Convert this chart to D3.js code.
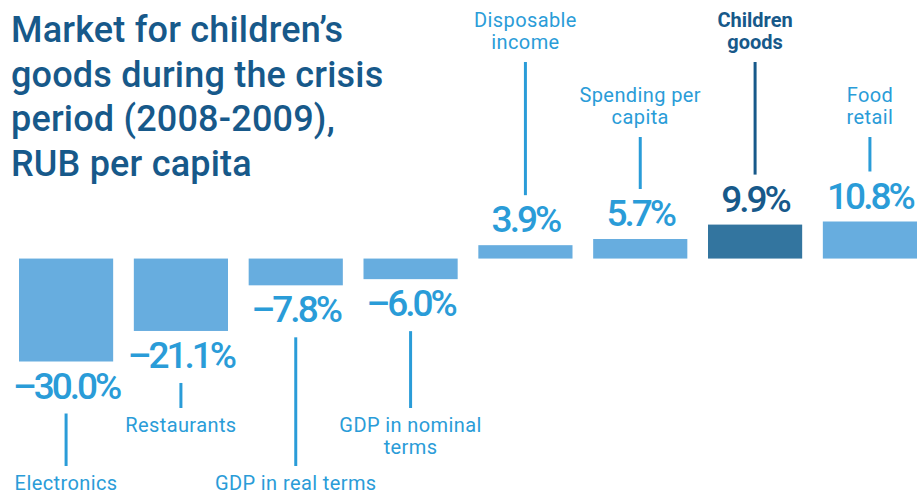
<!DOCTYPE html>
<html>
<head>
<meta charset="utf-8">
<script src="https://cdn.jsdelivr.net/npm/d3@7"></script>
<style>
  html, body { margin: 0; padding: 0; background: #fff; }
  svg { display: block; font-family: Roboto, "Open Sans", sans-serif; }
</style>
</head>
<body>
<svg id="chart" width="923" height="494"></svg>
<script>
// Change in market size, % (2008-2009)
const categories = [
  "Electronics", "Restaurants", "GDP in real terms", "GDP in nominal terms",
  "Disposable income", "Spending per capita", "Children goods", "Food retail"
];
const values = [-30.0, -21.1, -7.8, -6.0, 3.9, 5.7, 9.9, 10.8];
const valueLabels = ["\u201330.0%", "\u201321.1%", "\u20137.8%", "\u20136.0%", "3.9%", "5.7%", "9.9%", "10.8%"];
const labelLines = [
  ["Electronics"], ["Restaurants"], ["GDP in real terms"], ["GDP in nominal", "terms"],
  ["Disposable", "income"], ["Spending per", "capita"], ["Children", "goods"], ["Food", "retail"]
];
// staggered label rows: 1 = far from the bars, 0 = close to the bars
const labelTier = [1, 0, 1, 0, 1, 0, 1, 0];
const highlight = "Children goods";
const titleLines = ["Market for children\u2019s", "goods during the crisis", "period (2008-2009),", "RUB per capita"];

const colors = {
  bar: "#67addf",
  barHi: "#33759f",
  text: "#2a9cd8",
  textHi: "#17598a",
  title: "#17598a"
};

const svg = d3.select("#chart");

// title
svg.append("g").selectAll("text")
  .data(titleLines)
  .join("text")
  .attr("x", 11)
  .attr("y", (d, i) => 42 + i * 44.5)
  .attr("fill", colors.title)
  .attr("font-size", 36)
  .attr("font-weight", 500)
  .attr("letter-spacing", 0.2)
  .text(d => d);

const x = d3.scaleBand()
  .domain(categories)
  .range([19, 917])
  .paddingInner(0.18)
  .paddingOuter(0);

const y = d3.scaleLinear()
  .domain([-30, 10.8])
  .range([361.5, 221.5]);

const data = categories.map((c, i) => ({
  cat: c, value: values[i], vlabel: valueLabels[i], lines: labelLines[i], tier: labelTier[i],
  hi: c === highlight
}));

const g = svg.append("g");

// bars
g.selectAll("rect")
  .data(data)
  .join("rect")
  .attr("x", d => x(d.cat))
  .attr("width", x.bandwidth())
  .attr("y", d => Math.min(y(d.value), y(0)))
  .attr("height", d => Math.abs(y(d.value) - y(0)))
  .attr("fill", d => d.hi ? colors.barHi : colors.bar);

// value labels
const valueBase = d => d.value < 0 ? y(d.value) + 37 : y(d.value) - 13;
g.selectAll("text.value")
  .data(data)
  .join("text")
  .attr("class", "value")
  .attr("x", d => x(d.cat) + x.bandwidth() / 2)
  .attr("y", valueBase)
  .attr("text-anchor", "middle")
  .attr("font-size", 37)
  .attr("font-weight", 500)
  .attr("letter-spacing", -3)
  .attr("fill", d => d.hi ? colors.textHi : colors.text)
  .text(d => d.vlabel);

// category label rows
const lineH = 22;
const firstBase = d => d.value < 0
  ? (d.tier ? 490 : 432)
  : (d.tier ? 27 : 102);

const cat = g.selectAll("g.cat")
  .data(data)
  .join("g")
  .attr("class", "cat");

cat.append("text")
  .attr("text-anchor", "middle")
  .attr("font-size", 20)
  .attr("font-weight", d => d.hi ? 700 : 400)
  .attr("letter-spacing", d => d.hi ? 0 : 0.4)
  .attr("fill", d => d.hi ? colors.textHi : colors.text)
  .selectAll("tspan")
  .data(d => d.lines.map((l, i) => ({ l, i, d })))
  .join("tspan")
  .attr("x", o => x(o.d.cat) + x.bandwidth() / 2)
  .attr("y", o => firstBase(o.d) + o.i * lineH)
  .text(o => o.l);

// leader lines between value and category label
cat.append("line")
  .attr("x1", d => x(d.cat) + x.bandwidth() / 2)
  .attr("x2", d => x(d.cat) + x.bandwidth() / 2)
  .attr("y1", d => d.value < 0 ? valueBase(d) + 15 : firstBase(d) + (d.lines.length - 1) * lineH + 13)
  .attr("y2", d => d.value < 0 ? firstBase(d) - 24 : valueBase(d) - 37)
  .attr("stroke", d => d.hi ? colors.textHi : colors.text)
  .attr("stroke-width", 3);
</script>
</body>
</html>
